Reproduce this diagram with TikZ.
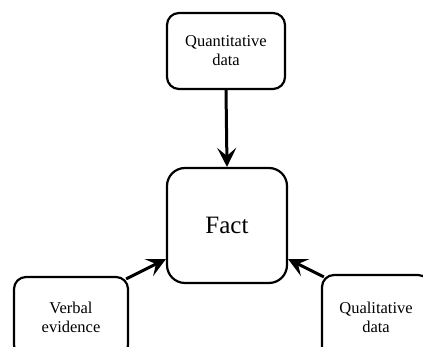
\documentclass[tikz,border=0pt]{standalone}
\usepackage{fontspec}
\setmainfont{Liberation Serif}
\usetikzlibrary{arrows.meta,calc}
\tikzset{
  box/.style={draw=black, line width=2.2pt, rounded corners=12pt, align=center,
    font=\fontsize{16.5}{19}\selectfont, inner sep=0pt},
  link/.style={line width=3pt, -{Stealth[length=19pt,width=19pt,inset=8pt]}}
}
\begin{document}
\begin{tikzpicture}[x=1pt,y=1pt]
  \useasboundingbox (0,0) rectangle (423,347);
  \clip (0,0) rectangle (423,347);
  % boxes
  \node[box, minimum width=118pt, minimum height=76pt] (quant) at (226,296) {Quantitative\\data};
  \node[box, rounded corners=18pt, minimum width=120pt, minimum height=115pt,
        font=\fontsize{25}{28}\selectfont] (fact) at (227,121.5) {Fact};
  \node[box, minimum width=114pt, minimum height=80pt] (verbal) at (71,30) {Verbal\\evidence};
  \node[box, minimum width=108pt, minimum height=84pt] (quali) at (376,30) {Qualitative\\data};
  % arrow end points on the sides of the central box
  \coordinate (factL) at ($(fact.south west)+(0,25)$);
  \coordinate (factR) at ($(fact.south east)+(0,25)$);
  % connectors
  \draw[link] (quant.south) -- (fact.north);
  \draw[link] ($(verbal.north east)+(-3,-3)$) -- (factL);
  \draw[link] ($(quali.north west)+(3,-3)$) -- (factR);
\end{tikzpicture}
\end{document}
